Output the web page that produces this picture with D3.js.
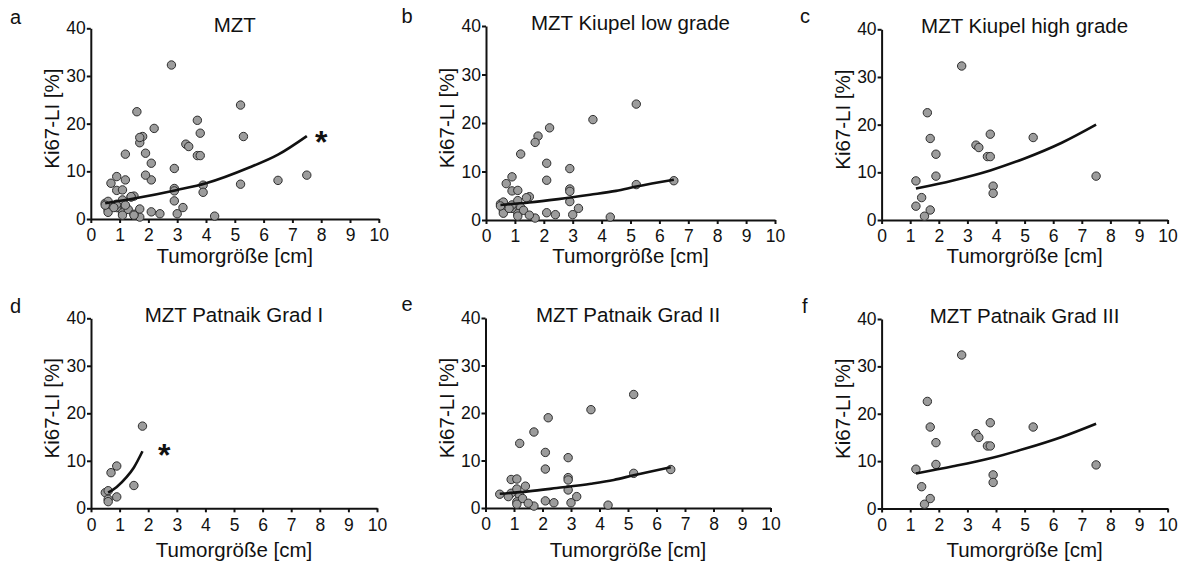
<!DOCTYPE html>
<html>
<head>
<meta charset="utf-8">
<script src="https://cdn.jsdelivr.net/npm/d3@7"></script>
<style>
  body { margin: 0; background: #fff; }
  svg { display: block; font-family: "Liberation Sans", Arial, sans-serif; }
</style>
</head>
<body>
<svg id="chart" width="1184" height="563"></svg>
<script>
  "use strict";

  // ---- data ----
  const xTicks = [0, 1, 2, 3, 4, 5, 6, 7, 8, 9, 10];
  const yTicks = [0, 10, 20, 30, 40];
  const panelLetters = ["a", "b", "c", "d", "e", "f"];
  const panelTitles = [
    "MZT",
    "MZT Kiupel low grade",
    "MZT Kiupel high grade",
    "MZT Patnaik Grad I",
    "MZT Patnaik Grad II",
    "MZT Patnaik Grad III"
  ];
  const xLabel = "Tumorgröße [cm]";
  const yLabel = "Ki67-LI [%]";

  // [tumour size cm, Ki67-LI %]
  const gradeI = [
    [0.5, 3.3], [0.6, 3.7], [0.6, 1.9], [0.6, 1.4], [0.7, 7.5],
    [0.9, 8.9], [0.9, 2.4], [1.5, 4.8], [1.8, 17.3]
  ];
  const gradeII = [
    [0.5, 2.9], [0.9, 6.0], [1.1, 6.1], [0.9, 3.1], [0.8, 2.4], [1.1, 4.0],
    [1.2, 2.6], [1.1, 1.3], [1.3, 2.0], [1.1, 0.8], [1.4, 4.6], [1.2, 13.6],
    [1.7, 16.0], [2.2, 19.0], [2.1, 11.7], [2.1, 8.2], [2.9, 10.6], [2.9, 6.4],
    [2.9, 5.9], [2.9, 3.8], [3.0, 1.1], [3.2, 2.4], [2.4, 1.1], [2.1, 1.5],
    [1.7, 0.4], [1.5, 1.0], [3.7, 20.7], [5.2, 23.9], [5.2, 7.3], [6.5, 8.1],
    [4.3, 0.6]
  ];
  const gradeIII = [
    [1.2, 8.3], [1.4, 4.6], [1.5, 0.9], [1.6, 22.6], [1.7, 17.2], [1.7, 2.1],
    [1.9, 13.9], [1.9, 9.3], [2.8, 32.4], [3.3, 15.8], [3.4, 15.0], [3.7, 13.2],
    [3.8, 13.2], [3.8, 18.1], [3.9, 7.1], [3.9, 5.5], [5.3, 17.2], [7.5, 9.2]
  ];
  const highGrade = [
    [1.2, 8.2], [1.4, 4.7], [1.2, 2.9], [1.5, 0.8], [1.6, 22.5], [1.7, 17.1],
    [1.7, 2.1], [1.9, 13.8], [1.9, 9.2], [2.8, 32.3], [3.3, 15.7], [3.4, 15.2],
    [3.7, 13.3], [3.8, 13.3], [3.8, 18.0], [3.9, 7.1], [3.9, 5.6], [5.3, 17.3],
    [7.5, 9.2]
  ];
  const lowGrade = gradeI.concat(gradeII);
  const allTumours = lowGrade.concat(highGrade);

  // fitted curves, sampled off the figure
  const fitAll = [[0.5, 3.3], [1.5, 4.3], [3, 6.1], [4, 7.5], [5.5, 10.8], [6.5, 13.5], [7.5, 17.4]];
  const fitLow = [[0.5, 3.1], [1.5, 3.6], [2.5, 4.3], [3.6, 5.2], [4.5, 6.0], [5.2, 6.9], [6.5, 8.3]];
  const fitHigh = [[1.2, 6.6], [2.5, 8.3], [3.8, 10.4], [5.0, 12.9], [6.3, 16.2], [7.5, 20.0]];
  const fitGradeI = [[0.6, 3.3], [0.9, 4.5], [1.25, 6.6], [1.5, 8.6], [1.8, 12.0]];
  const fitGradeII = [[0.5, 3.0], [1.5, 3.5], [2.5, 4.2], [3.7, 5.1], [4.5, 5.9], [5.2, 6.9], [6.5, 8.6]];
  const fitGradeIII = [[1.2, 7.4], [2.5, 8.9], [3.8, 10.6], [5.0, 12.6], [6.3, 15.1], [7.5, 17.9]];

  // significance markers (data coords)
  const starAll = [8.0, 17.6];
  const starGradeI = [2.56, 12.6];

  const panelPoints = [allTumours, lowGrade, highGrade, gradeI, gradeII, gradeIII];
  const panelFits = [fitAll, fitLow, fitHigh, fitGradeI, fitGradeII, fitGradeIII];
  const panelStars = [starAll, null, null, starGradeI, null, null];

  // ---- layout ----
  const BOXES = [
    { x0: 90.8, w: 288, top: 28.3, bottom: 219, lx: 10, ly: 23.5, xt: 262.5 },
    { x0: 486, w: 289, top: 26, bottom: 220, lx: 401.5, ly: 23, xt: 262.5 },
    { x0: 881.6, w: 286, top: 29.3, bottom: 220, lx: 800, ly: 23, xt: 262.5 },
    { x0: 91, w: 286, top: 318.3, bottom: 508.3, lx: 10, ly: 313, xt: 557 },
    { x0: 485.5, w: 285, top: 318, bottom: 508, lx: 401.5, ly: 311, xt: 557 },
    { x0: 881.6, w: 286, top: 319, bottom: 508.5, lx: 802, ly: 313, xt: 557 }
  ];
  const INK = "#111";

  const svg = d3.select("#chart");

  BOXES.forEach((b, i) => {
    const x = d3.scaleLinear().domain([0, 10]).range([b.x0, b.x0 + b.w]);
    const y = d3.scaleLinear().domain([0, 40]).range([b.bottom, b.top]);
    const g = svg.append("g");

    // axes
    const xAxis = g.append("g")
      .attr("transform", `translate(0,${b.bottom})`)
      .call(d3.axisBottom(x).tickValues(xTicks).tickSize(4).tickSizeOuter(0).tickPadding(6));
    const yAxis = g.append("g")
      .attr("transform", `translate(${b.x0},0)`)
      .call(d3.axisLeft(y).tickValues(yTicks).tickSize(4).tickSizeOuter(0).tickPadding(1));
    [xAxis, yAxis].forEach((ax) => {
      ax.selectAll("path, line").attr("stroke", INK).attr("stroke-width", 2);
      ax.selectAll("text")
        .attr("fill", INK)
        .style("font-size", "17.5px")
        .style("font-family", '"Liberation Sans", Arial, sans-serif');
    });

    // points
    g.append("g")
      .selectAll("circle")
      .data(panelPoints[i])
      .join("circle")
      .attr("cx", (d) => x(d[0]))
      .attr("cy", (d) => y(d[1]))
      .attr("r", 4.2)
      .attr("fill", "#9c9c9c")
      .attr("stroke", "#2e2e2e")
      .attr("stroke-width", 1);

    // fitted curve
    g.append("path")
      .datum(panelFits[i])
      .attr("fill", "none")
      .attr("stroke", INK)
      .attr("stroke-width", 2.6)
      .attr("d", d3.line().x((d) => x(d[0])).y((d) => y(d[1])).curve(d3.curveMonotoneX));

    // asterisk
    const star = panelStars[i];
    if (star) {
      g.append("text")
        .attr("x", x(star[0]))
        .attr("y", y(star[1]))
        .attr("dy", "0.56em")
        .attr("text-anchor", "middle")
        .attr("fill", INK)
        .style("font-size", "32px")
        .style("font-weight", "bold")
        .text("*");
    }

    // title
    g.append("text")
      .attr("x", b.x0 + b.w / 2)
      .attr("y", b.top + 3.5)
      .attr("text-anchor", "middle")
      .attr("fill", INK)
      .style("font-size", "20.5px")
      .text(panelTitles[i]);

    // axis titles
    g.append("text")
      .attr("x", b.x0 + b.w / 2)
      .attr("y", b.xt)
      .attr("text-anchor", "middle")
      .attr("fill", INK)
      .style("font-size", "20.5px")
      .text(xLabel);
    g.append("text")
      .attr("transform", `translate(${b.x0 - 32},${(b.top + b.bottom) / 2 - 5}) rotate(-90)`)
      .attr("text-anchor", "middle")
      .attr("fill", INK)
      .style("font-size", "20.5px")
      .text(yLabel);

    // panel letter
    g.append("text")
      .attr("x", b.lx)
      .attr("y", b.ly)
      .attr("fill", INK)
      .style("font-size", "20px")
      .text(panelLetters[i]);
  });
</script>
</body>
</html>
